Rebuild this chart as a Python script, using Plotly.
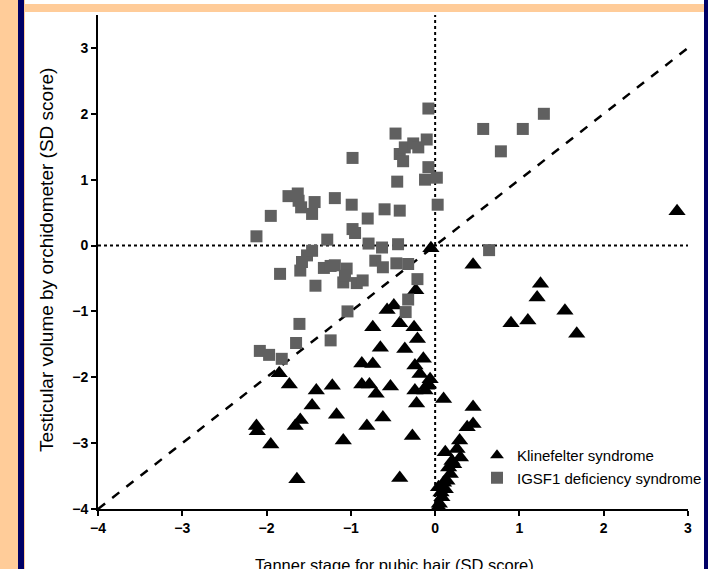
import plotly.graph_objects as go

# ---------------- data ----------------
kline_x = [2.87, 1.25, 1.21, 1.54, 0.90, 1.10, 1.68, 0.45, -0.05, -0.23,
           -0.57, -0.49, -0.74, -0.42, -0.25, -0.21, -0.65, -0.36, -0.14, -0.87,
           -0.74, -0.24, -0.18, -1.85, -1.73, -1.22, -0.87, -0.78, -0.53, -1.41,
           -0.70, -0.24, -0.12, -0.06, -0.08, -0.10, -0.22, 0.10, -1.46, -1.17,
           -1.60, -1.66, -0.62, -0.81, -2.12, -2.11, -1.95, -1.09, -0.27, -1.64,
           -0.42, 0.45, 0.45, 0.38, 0.29, 0.26, 0.12, 0.30, 0.22, 0.20,
           0.16, 0.18, 0.14, 0.04, 0.12, 0.08, 0.05, 0.04, 0.10, 0.07]
kline_y = [0.52, -0.58, -0.79, -0.99, -1.18, -1.14, -1.34, -0.29, -0.04, -0.68,
           -0.98, -0.91, -1.24, -1.18, -1.24, -1.42, -1.55, -1.57, -1.72, -1.79,
           -1.80, -1.82, -1.95, -1.94, -2.11, -2.13, -2.11, -2.11, -2.14, -2.20,
           -2.25, -2.20, -2.20, -2.03, -2.11, -2.13, -2.40, -2.33, -2.43, -2.57,
           -2.65, -2.74, -2.61, -2.74, -2.74, -2.82, -3.02, -2.96, -2.89, -3.55,
           -3.53, -2.45, -2.71, -2.76, -2.96, -3.09, -3.14, -3.22, -3.32, -3.27,
           -3.37, -3.47, -3.57, -3.67, -3.70, -3.82, -3.92, -3.97, -3.60, -3.75]

igsf_x = [-2.12, -1.95, -1.84, -1.74, -1.63, -1.62, -1.59, -1.46, -1.43, -1.60,
          -1.58, -1.52, -1.46, -1.42, -1.28, -1.32, -1.24, -1.19, -1.19, -1.09,
          -1.05, -1.07, -0.98, -0.99, -0.98, -0.95, -0.93, -0.86, -0.80, -0.79,
          -0.71, -0.62, -0.63, -0.60, -0.47, -0.45, -0.42, -0.44, -0.46, -0.42,
          -0.38, -0.32, -0.36, -0.26, -0.20, -0.21, -0.10, -0.08, -0.08, -0.12,
          0.02, 0.03, -0.32, -0.35, -1.04, -1.61, -1.24, -1.65, -2.08, -1.97,
          -1.82, 0.57, 1.04, 0.78, 1.29, 0.64]
igsf_y = [0.14, 0.45, -0.43, 0.75, 0.79, 0.68, 0.58, 0.48, 0.66, -0.38,
          -0.25, -0.15, -0.08, -0.61, 0.09, -0.34, -0.31, -0.30, 0.72, -0.56,
          -0.35, -0.46, 1.33, 0.62, 0.25, 0.19, -0.57, -0.53, 0.41, 0.03,
          -0.23, -0.33, -0.03, 0.55, 1.70, 0.97, 0.53, 0.02, -0.27, 1.39,
          1.28, -0.28, 1.49, 1.55, 1.49, -0.51, 1.61, 2.08, 1.19, 1.00,
          1.03, 0.62, -0.82, -1.01, -1.00, -1.19, -1.44, -1.48, -1.60, -1.66,
          -1.72, 1.77, 1.77, 1.43, 2.00, -0.07]

x_ticks = [-4, -3, -2, -1, 0, 1, 2, 3]
y_ticks = [-4, -3, -2, -1, 0, 1, 2, 3]
x_range = [-4, 3]
y_range = [-4, 3.5]

x_title = "Tanner stage for pubic hair (SD score)"
y_title = "Testicular volume by orchidometer (SD score)"
names = ["Klinefelter syndrome", "IGSF1 deficiency syndrome"]

# ---------------- figure ----------------
W, H = 708, 569
L, R, T, B = 98, 20, 15, 60
pw, ph = W - L - R, H - T - B


def px2paper_x(px):
    return (px - L) / pw


def px2paper_y(py):
    return (H - B - py) / ph


FONT = "Liberation Sans, Arial, sans-serif"

fig = go.Figure()
fig.add_trace(go.Scatter(
    x=kline_x, y=kline_y, mode="markers", name=names[0],
    marker=dict(symbol="triangle-up", size=15, color="black",
                line=dict(width=0))))
fig.add_trace(go.Scatter(
    x=igsf_x, y=igsf_y, mode="markers", name=names[1],
    marker=dict(symbol="square", size=12, color="#606060",
                line=dict(width=0))))

shapes = []
# reference lines
shapes.append(dict(type="line", xref="x", yref="y", x0=x_range[0], y0=y_range[0],
                   x1=x_range[1], y1=x_range[1],
                   line=dict(color="black", width=2.5, dash="dash"), layer="below"))
shapes.append(dict(type="line", xref="x", yref="y", x0=0, y0=y_range[0], x1=0,
                   y1=y_range[1], line=dict(color="black", width=2, dash="dot"),
                   layer="below"))
shapes.append(dict(type="line", xref="x", yref="y", x0=x_range[0], y0=0,
                   x1=x_range[1], y1=0,
                   line=dict(color="black", width=2, dash="dot"), layer="below"))

# slide frame
PEACH = "#FFCC99"
NAVY = "#000066"


def rect(px0, py0, px1, py1, color):
    return dict(type="rect", xref="paper", yref="paper",
                x0=px2paper_x(px0), x1=px2paper_x(px1),
                y0=px2paper_y(py1), y1=px2paper_y(py0),
                fillcolor=color, line=dict(width=0), layer="above")


shapes.append(rect(0, 0, 18, H, PEACH))
shapes.append(rect(18, 0, 24, H, NAVY))
shapes.append(rect(24, 0, 25, H, PEACH))
shapes.append(rect(25, 4, 704, 12, PEACH))
shapes.append(rect(704, 0, W, H, NAVY))

annotations = [
    dict(text=x_title, xref="paper", yref="paper",
         x=px2paper_x(395), y=px2paper_y(565), xanchor="center", yanchor="middle",
         showarrow=False, font=dict(family=FONT, size=16.5, color="black")),
    dict(text=y_title, xref="paper", yref="paper", textangle=-90,
         x=px2paper_x(46), y=px2paper_y(260), xanchor="center", yanchor="middle",
         showarrow=False, font=dict(family=FONT, size=19, color="black")),
]

axis_common = dict(showline=True, linecolor="black", linewidth=2,
                   ticks="outside", ticklen=5, tickwidth=2, tickcolor="black",
                   showgrid=False, zeroline=False, automargin=False,
                   tickfont=dict(family=FONT, size=14, color="black", weight="bold"))

fig.update_layout(
    width=W, height=H,
    margin=dict(l=L, r=R, t=T, b=B, autoexpand=False),
    paper_bgcolor="white", plot_bgcolor="white",
    xaxis=dict(range=x_range, tickvals=x_ticks, **axis_common),
    yaxis=dict(range=y_range, tickvals=y_ticks, **axis_common),
    shapes=shapes, annotations=annotations,
    legend=dict(x=px2paper_x(477), y=px2paper_y(439), xanchor="left", yanchor="top",
                bgcolor="rgba(0,0,0,0)", borderwidth=0,
                font=dict(family=FONT, size=15, color="black"),
                itemsizing="constant"),
    showlegend=True,
)

fig.write_html("out.html", post_script="document.body.style.margin='0';",
               config={"displayModeBar": False})
